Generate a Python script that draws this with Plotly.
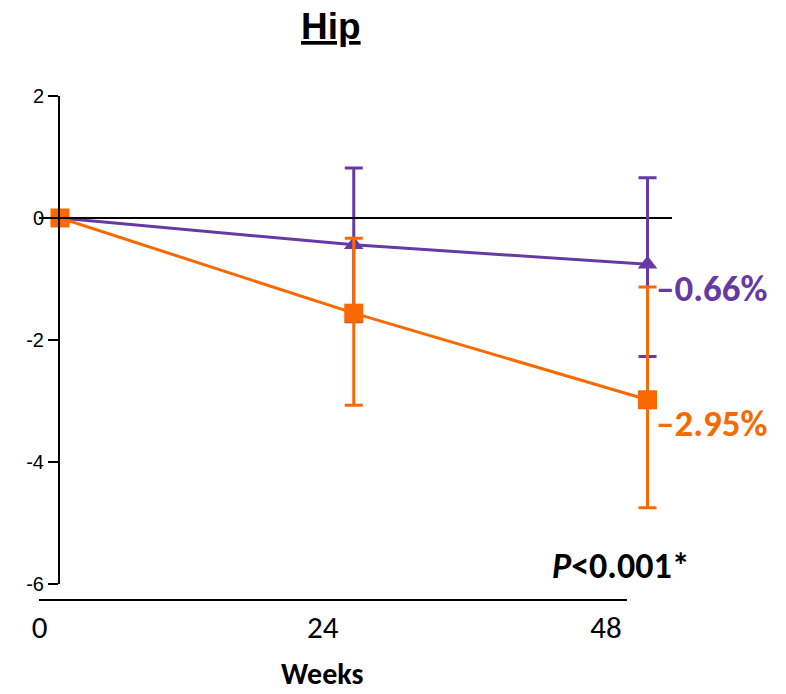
import plotly.graph_objects as go

weeks = [0, 24, 48]
purple_mean = [0, -0.44, -0.76]
purple_err_plus = [0, 1.26, 1.42]
purple_err_minus = [0, 1.26, 1.51]
orange_mean = [0, -1.56, -2.98]
orange_err_plus = [0, 1.23, 1.85]
orange_err_minus = [0, 1.51, 1.77]
y_ticks = [2, 0, -2, -4, -6]
y_ticktext = ["2", "0", "-2", "-4", "-6"]
x_ticks = [0, 24, 48]
x_ticktext = ["0", "24", "48"]

PURPLE = "#6639A5"
ORANGE = "#F96900"
W, H = 786, 694
T, B = 96, 94
PH = H - T - B


def px_x(p):
    return p / W


def px_y(p):
    return (H - B - p) / PH


fig = go.Figure()
# invisible trace so the separate week axis is drawn (added first so it sits underneath)
fig.add_trace(go.Scatter(
    x=x_ticks, y=[-6, -6, -6], xaxis="x2", yaxis="y", mode="markers",
    marker=dict(opacity=0), showlegend=False, hoverinfo="skip",
))
fig.add_trace(go.Scatter(
    x=weeks, y=purple_mean, mode="lines+markers",
    line=dict(color=PURPLE, width=3),
    marker=dict(symbol="triangle-up", size=17, color=PURPLE),
    error_y=dict(type="data", symmetric=False, array=purple_err_plus,
                 arrayminus=purple_err_minus, color=PURPLE, thickness=3, width=9),
    showlegend=False, cliponaxis=False, hoverinfo="skip",
))
fig.add_trace(go.Scatter(
    x=weeks, y=orange_mean, mode="lines+markers",
    line=dict(color=ORANGE, width=3),
    marker=dict(symbol="square", size=19, color=ORANGE),
    error_y=dict(type="data", symmetric=False, array=orange_err_plus,
                 arrayminus=orange_err_minus, color=ORANGE, thickness=3, width=9),
    showlegend=False, cliponaxis=False, hoverinfo="skip",
))

x2_scale = (606 - 39.5) / 48.0
x2_lo = (39 - 39.5) / x2_scale
x2_hi = (627 - 39.5) / x2_scale

fig.update_layout(
    width=W, height=H,
    margin=dict(l=0, r=0, t=T, b=B, autoexpand=False),
    paper_bgcolor="white", plot_bgcolor="rgba(0,0,0,0)",
    xaxis=dict(domain=[px_x(60), px_x(672)], range=[0, 50], visible=False,
               fixedrange=True, automargin=False),
    yaxis=dict(domain=[px_y(584), 1], range=[-6, 2], tickvals=y_ticks,
               ticktext=y_ticktext, fixedrange=True, automargin=False,
               ticks="outside", ticklen=10, tickwidth=2, tickcolor="black",
               showline=True, linewidth=2, linecolor="black",
               showgrid=False, zeroline=True, zerolinecolor="black", zerolinewidth=1.5,
               tickfont=dict(family="Liberation Sans, Arial", size=20, color="black")),
    xaxis2=dict(domain=[px_x(39), px_x(627)], range=[x2_lo, x2_hi],
                anchor="free", position=0, tickvals=x_ticks, ticktext=x_ticktext,
                ticks="", showline=True, linewidth=2, linecolor="black",
                showgrid=False, zeroline=False, fixedrange=True, automargin=False,
                tickfont=dict(family="Carlito, Lato, sans-serif", size=31, color="black")),
)

ann_font = "Carlito, Lato, sans-serif"
fig.add_annotation(text="<b>Hip</b>", x=px_x(331), y=px_y(26), xref="paper", yref="paper",
                   showarrow=False, xanchor="center", yanchor="middle",
                   font=dict(family="Liberation Sans, Arial", size=37, color="black",
                             lineposition="under"))
fig.add_annotation(text="<b>–0.66%</b>", x=px_x(654), y=px_y(288), xref="paper", yref="paper",
                   showarrow=False, xanchor="left", yanchor="middle",
                   font=dict(family=ann_font, size=37, color=PURPLE))
fig.add_annotation(text="<b>–2.95%</b>", x=px_x(654), y=px_y(423), xref="paper", yref="paper",
                   showarrow=False, xanchor="left", yanchor="middle",
                   font=dict(family=ann_font, size=37, color=ORANGE))
fig.add_annotation(text="<b><i>P</i>&lt;0.001*</b>", x=px_x(692), y=px_y(566), xref="paper",
                   yref="paper", showarrow=False, xanchor="right", yanchor="middle",
                   font=dict(family=ann_font, size=36, color="black"))
fig.add_annotation(text="<b>Weeks</b>", x=px_x(322), y=px_y(694), xref="paper", yref="paper",
                   showarrow=False, xanchor="center", yanchor="bottom",
                   font=dict(family=ann_font, size=30, color="black"))

fig.write_html("out.html")
